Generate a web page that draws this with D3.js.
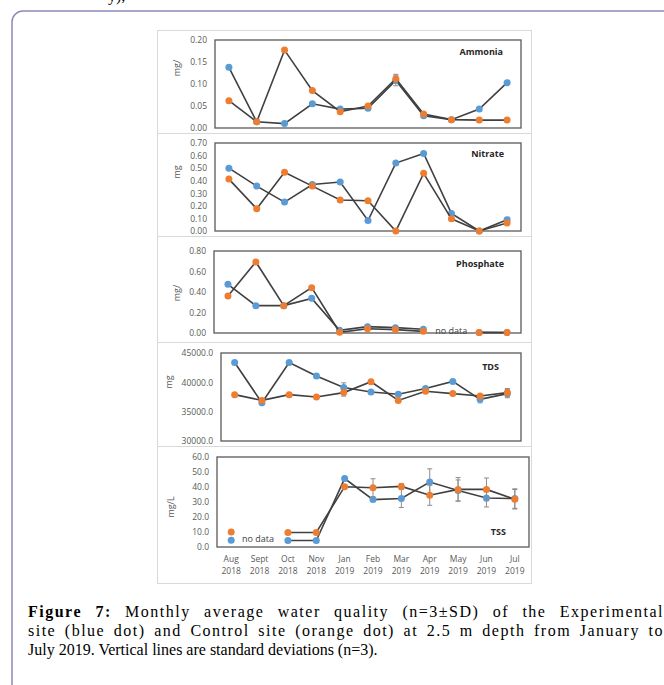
<!DOCTYPE html>
<html>
<head>
<meta charset="utf-8">
<script src="https://cdnjs.cloudflare.com/ajax/libs/d3/7.8.5/d3.min.js"></script>
<style>
  html, body { margin: 0; padding: 0; background: #fff; }
  #wrap { position: relative; width: 664px; height: 685px; overflow: hidden; }
  svg { position: absolute; left: 0; top: 0; }
  #caption { position: absolute; left: 28px; top: 602px; width: 636px;
    font-family: "Liberation Serif", "Times New Roman", serif; font-size: 16px; line-height: 19px; color: #000; }
  #caption .j { text-align: justify; text-align-last: justify; white-space: nowrap; letter-spacing: 1.5px; }
</style>
</head>
<body>
<div id="wrap">
<svg id="chart" width="664" height="685"></svg>
<div id="caption">
  <div class="j"><b>Figure 7:</b> Monthly average water quality (n=3±SD) of the Experimental</div>
  <div class="j">site (blue dot) and Control site (orange dot) at 2.5 m depth from January to</div>
  <div>July 2019. Vertical lines are standard deviations (n=3).</div>
</div>
</div>
<script>
// ---------- data ----------
const months = ["Aug","Sept","Oct","Nov","Jan","Feb","Mar","Apr","May","Jun","Jul"];
const years  = ["2018","2018","2018","2018","2019","2019","2019","2019","2019","2019","2019"];

const ammoniaExp   = [0.138,0.014,0.010,0.055,0.043,0.045,0.108,0.028,0.019,0.043,0.103];
const ammoniaCtl   = [0.062,0.014,0.177,0.085,0.037,0.050,0.112,0.032,0.019,0.018,0.018];
const ammoniaExpSD = [null,null,null,null,null,null,0.012,null,null,null,null];
const ammoniaCtlSD = [null,null,null,null,null,null,0.010,null,null,null,null];

const nitrateExp = [0.500,0.357,0.230,0.370,0.390,0.083,0.540,0.617,0.140,0.000,0.090];
const nitrateCtl = [0.413,0.177,0.467,0.357,0.247,0.241,0.000,0.459,0.097,0.000,0.064];

const phosphateExp = [0.475,0.267,0.267,0.338,0.026,0.062,0.052,0.036,null,0.005,0.005];
const phosphateCtl = [0.361,0.693,0.267,0.442,0.007,0.042,0.033,0.016,null,0.006,0.004];

const tdsExp   = [43385,36519,43385,41077,39115,38365,37962,38942,40154,37096,38077];
const tdsCtl   = [37904,36923,37904,37500,38250,40096,36923,38481,38077,37673,38250];
const tdsExpSD = [null,null,null,null,800,null,null,null,null,600,700];
const tdsCtlSD = [null,null,null,null,600,null,null,null,null,null,700];

const tssExp   = [4.5,null,4.3,4.3,45.6,31.6,32.3,43.3,37.7,32.7,32.3];
const tssCtl   = [10.0,null,9.7,9.7,40.2,39.5,40.4,34.5,38.4,38.4,31.8];
const tssExpSD = [null,null,null,null,1.5,null,6.0,8.8,7.0,6.0,6.5];
const tssCtlSD = [null,null,null,null,null,6.0,2.0,6.7,7.9,7.6,6.5];

const ammoniaTicks   = [0,0.05,0.10,0.15,0.20];
const nitrateTicks   = [0,0.1,0.2,0.3,0.4,0.5,0.6,0.7];
const phosphateTicks = [0,0.2,0.4,0.6,0.8];
const tdsTicks       = [30000,35000,40000,45000];
const tssTicks       = [0,10,20,30,40,50,60];

// ---------- layout ----------
const svg = d3.select("#chart");
const BLUE = "#5b9bd5", ORANGE = "#ed7d31", LINE = "#404040", AXTXT = "#595959";
const FONT = "Open Sans, sans-serif";

// page fragment + frame
svg.append("text").attr("x",108).attr("y",1).attr("font-family","Liberation Serif, serif")
  .attr("font-size",16).attr("fill","#000").text("y),");
svg.append("rect").attr("x",12).attr("y",11).attr("width",720).attr("height",720)
  .attr("rx",11).attr("fill","none").attr("stroke","#8e89bb").attr("stroke-width",1.5);

// figure image box
svg.append("rect").attr("x",157.5).attr("y",30.5).attr("width",374).attr("height",553)
  .attr("fill","#fff").attr("stroke","#d9d9d9");
[133.5,236.5,342.5,446.5].forEach(y=>{
  svg.append("line").attr("x1",157.5).attr("x2",531.5).attr("y1",y).attr("y2",y)
    .attr("stroke","#d9d9d9");
});

const panels = [
  {name:"Ammonia", exp:ammoniaExp, ctl:ammoniaCtl, expSD:ammoniaExpSD, ctlSD:ammoniaCtlSD,
   x0:215, x1:521, y0:40, y1:128, dom:[0,0.2], ticks:ammoniaTicks, fmt:d3.format(".2f"),
   unit:"mg/", ux:178, uy:68, tx:503, ty:55},
  {name:"Nitrate", exp:nitrateExp, ctl:nitrateCtl,
   x0:215, x1:521, y0:143, y1:231, dom:[0,0.7], ticks:nitrateTicks, fmt:d3.format(".2f"),
   unit:"mg", ux:178, uy:172, tx:504, ty:157},
  {name:"Phosphate", exp:phosphateExp, ctl:phosphateCtl,
   x0:214, x1:521, y0:251, y1:333, dom:[0,0.8], ticks:phosphateTicks, fmt:d3.format(".2f"),
   unit:"mg/", ux:178, uy:293, tx:504, ty:267, noData:{i:8, y:334}},
  {name:"TDS", exp:tdsExp, ctl:tdsCtl, expSD:tdsExpSD, ctlSD:tdsCtlSD,
   x0:221, x1:521, y0:353, y1:441, dom:[30000,45000], ticks:tdsTicks, fmt:d3.format(".1f"),
   unit:"mg", ux:170, uy:382, tx:499, ty:370},
  {name:"TSS", exp:tssExp, ctl:tssCtl, expSD:tssExpSD, ctlSD:tssCtlSD,
   x0:217, x1:529, y0:457, y1:547, dom:[0,60], ticks:tssTicks, fmt:d3.format(".1f"),
   unit:"mg/L", ux:172, uy:507, tx:506, ty:535, xAxis:true, noDataTSS:true}
];

panels.forEach(p=>{
  const g = svg.append("g");
  const x = d3.scaleBand().domain(months).range([p.x0,p.x1]);
  const y = d3.scaleLinear().domain(p.dom).range([p.y1,p.y0]);
  const cx = i => x(months[i]) + x.bandwidth()/2;

  // y axis
  const ya = g.append("g").attr("transform",`translate(${p.x0},0)`)
    .call(d3.axisLeft(y).tickValues(p.ticks).tickFormat(p.fmt).tickSize(0).tickPadding(8));
  ya.select(".domain").remove();
  ya.selectAll("text").attr("font-family",FONT).attr("font-size",8.5).attr("fill",AXTXT);

  // x axis labels
  if (p.xAxis) {
    const xa = g.append("g").attr("transform",`translate(0,${p.y1})`)
      .call(d3.axisBottom(x).tickSize(0).tickPadding(0).tickFormat(()=>""));
    xa.select(".domain").remove();
    xa.selectAll(".tick text").each(function(d,i){
      const t = d3.select(this);
      t.attr("font-family",FONT).attr("font-size",8.5).attr("fill",AXTXT);
      t.append("tspan").attr("x",0).attr("dy","1.75em").text(months[i]);
      t.append("tspan").attr("x",0).attr("dy","1.4em").text(years[i]);
    });
  }

  // plot box
  g.append("rect").attr("x",p.x0).attr("y",p.y0).attr("width",p.x1-p.x0).attr("height",p.y1-p.y0)
    .attr("fill","none").attr("stroke","#595959").attr("stroke-width",1.3);

  // unit label
  g.append("text").attr("transform",`translate(${p.ux},${p.uy}) rotate(-90)`)
    .attr("text-anchor","middle").attr("dominant-baseline","middle")
    .attr("font-family",FONT).attr("font-size",9).attr("fill",AXTXT).text(p.unit);

  // title
  g.append("text").attr("x",p.tx).attr("y",p.ty).attr("text-anchor","end")
    .attr("font-family",FONT).attr("font-weight","bold").attr("font-size",9)
    .attr("fill","#262626").text(p.name);

  const line = d3.line().defined(d=>d!=null).x((d,i)=>cx(i)).y(d=>y(d));

  [[p.exp,p.expSD,BLUE],[p.ctl,p.ctlSD,ORANGE]].forEach(([vals,sd,col])=>{
    if (sd) {
      sd.forEach((s,i)=>{
        if (s==null || vals[i]==null) return;
        const xx = cx(i), ya_ = y(vals[i]+s), yb = y(vals[i]-s);
        g.append("line").attr("x1",xx).attr("x2",xx).attr("y1",ya_).attr("y2",yb)
          .attr("stroke","#8c8c8c").attr("stroke-width",1);
        [ya_,yb].forEach(yy=>g.append("line").attr("x1",xx-2.5).attr("x2",xx+2.5)
          .attr("y1",yy).attr("y2",yy).attr("stroke","#8c8c8c").attr("stroke-width",1));
      });
    }
    const lineVals = p.noDataTSS ? vals.map((v,i)=> i<2 ? null : v) : vals;
    g.append("path").attr("d",line(lineVals)).attr("fill","none")
      .attr("stroke",LINE).attr("stroke-width",1.6);
    g.selectAll(null).data(vals.map((v,i)=>({v,i})).filter(d=>d.v!=null)).enter()
      .append("circle").attr("cx",d=>cx(d.i)).attr("cy",d=>y(d.v)).attr("r",3.5).attr("fill",col);
  });

  if (p.noData) {
    g.append("text").attr("x",cx(p.noData.i)).attr("y",p.noData.y).attr("text-anchor","middle")
      .attr("font-family",FONT).attr("font-size",9).attr("fill","#404040").text("no data");
  }
  if (p.noDataTSS) {
    g.append("text").attr("x",242).attr("y",542).attr("text-anchor","start")
      .attr("font-family",FONT).attr("font-size",9).attr("fill","#404040").text("no data");
  }
});
</script>
</body>
</html>
